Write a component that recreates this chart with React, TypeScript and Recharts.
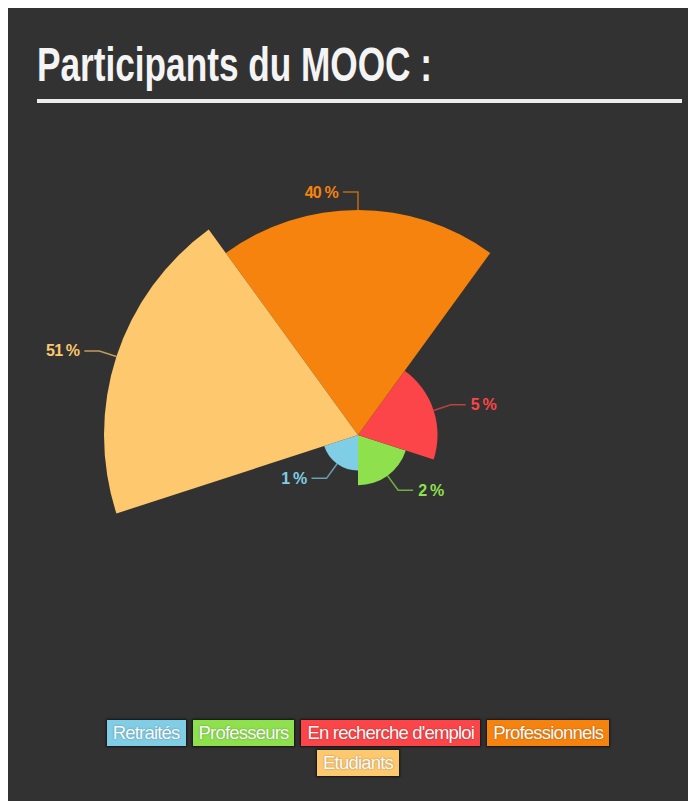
import React from 'react';
import { RadialBarChart, RadialBar, PolarAngleAxis, PolarRadiusAxis, Sector } from 'recharts';

const categories = ['Retraités', 'Professeurs', "En recherche d'emploi", 'Professionnels', 'Etudiants'];
const shares = [1, 2, 5, 40, 51];
const colors = ['#80cde6', '#8ee04c', '#fb4548', '#f5830e', '#fdc86e'];
const title = 'Participants du MOOC :';

const data = categories.map((name, i) => ({ name, value: shares[i], fill: colors[i] }));

const FONT = '"Liberation Sans", Arial, sans-serif';
const RAD = Math.PI / 180;

function SliceShape(props: any) {
  const { cx, cy, innerRadius, outerRadius, startAngle, endAngle } = props;
  const payload = props.payload || {};
  const fill = payload.fill || props.fill;
  const value = payload.value ?? props.value;
  const mid = (startAngle + endAngle) / 2;
  const c = Math.cos(mid * RAD);
  const s = Math.sin(mid * RAD);
  const sx = cx + outerRadius * c;
  const sy = cy - outerRadius * s;
  const ex = cx + (outerRadius + 18) * c;
  const ey = cy - (outerRadius + 18) * s;
  const right = c > 0.01;
  const hx = ex + (right ? 15 : -15);
  const tx = hx + (right ? 5 : -5);
  return (
    <g>
      <Sector cx={cx} cy={cy} innerRadius={innerRadius} outerRadius={outerRadius} startAngle={startAngle} endAngle={endAngle} fill={fill} stroke="none" />
      <polyline points={`${sx},${sy} ${ex},${ey} ${hx},${ey}`} fill="none" stroke={fill} strokeOpacity={0.7} strokeWidth={1.5} />
      <text x={tx} y={ey} textAnchor={right ? 'start' : 'end'} dominantBaseline="central" fill={fill} fontFamily={FONT} fontWeight="bold" fontSize={16} letterSpacing={-0.8}>
        {`${value} %`}
      </text>
    </g>
  );
}

export default function App() {
  return (
    <div style={{ position: 'relative', width: 688, height: 793, background: '#323232', overflow: 'hidden' }}>
      <svg width={688} height={110} style={{ position: 'absolute', left: 0, top: 0 }}>
        <text x={29} y={73} fill="#f4f4f4" fontFamily={FONT} fontWeight="bold" fontSize={49} textLength={395} lengthAdjust="spacingAndGlyphs">
          {title}
        </text>
        <rect x={29} y={91} width={645} height={4} fill="#ececec" />
      </svg>
      <div style={{ position: 'absolute', left: 0, top: 110 }}>
        <RadialBarChart
          width={688}
          height={600}
          data={data}
          layout="centric"
          cx={350}
          cy={317}
          innerRadius={0}
          outerRadius={254}
          startAngle={270}
          endAngle={630}
          barCategoryGap={0}
          barGap={0}
          margin={{ top: 0, right: 0, bottom: 0, left: 0 }}
        >
          <PolarAngleAxis type="category" dataKey="name" tick={false} axisLine={false} tickLine={false} />
          <PolarRadiusAxis type="number" scale="sqrt" domain={[0, 'dataMax']} tick={false} axisLine={false} tickLine={false} />
          <RadialBar dataKey="value" isAnimationActive={false} shape={SliceShape} />
        </RadialBarChart>
      </div>
      <div
        style={{
          position: 'absolute',
          left: 80,
          width: 540,
          top: 712,
          display: 'flex',
          flexWrap: 'wrap',
          justifyContent: 'center',
          columnGap: 7,
          rowGap: 4,
        }}
      >
        {categories.map((name, i) => (
          <div
            key={name}
            style={{
              background: colors[i],
              color: '#fafafa',
              fontFamily: FONT,
              fontSize: 18.5,
              letterSpacing: -0.8,
              lineHeight: '26px',
              padding: '0 6px',
              boxShadow: '0 0 2px 1px rgba(0,0,0,0.6)',
              textShadow: '0 0 2px rgba(0,0,0,0.35)',
              whiteSpace: 'nowrap',
            }}
          >
            {name}
          </div>
        ))}
      </div>
    </div>
  );
}
